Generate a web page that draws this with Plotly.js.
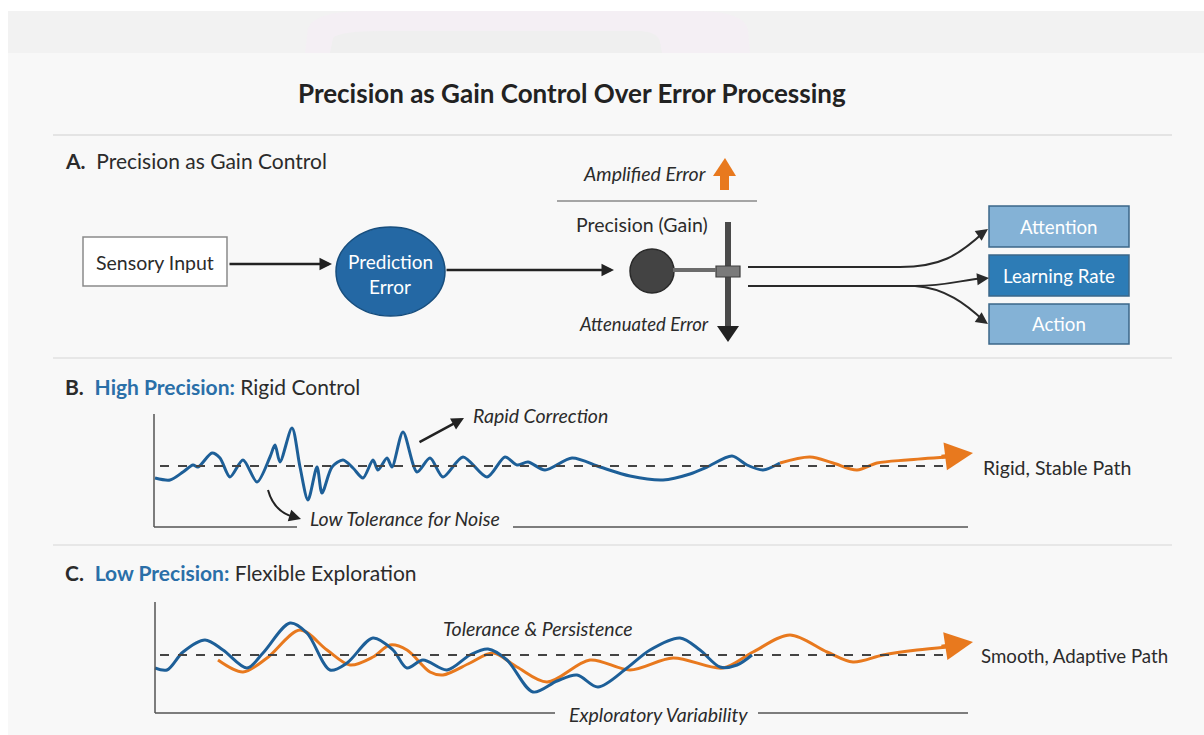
<!DOCTYPE html>
<html>
<head>
<meta charset="utf-8">
<script src="https://cdn.plot.ly/plotly-3.0.1.min.js"></script>
<style>html,body{margin:0;padding:0;background:#fff;}#chart{width:1204px;height:735px;}</style>
</head>
<body>
<div id="chart"></div>
<script>
// ---------- DATA ----------
// Panel B: high precision (time units, deviation from set point)
const highBlueT = [0.1,1.6,2.9,3.9,4.4,5.8,6.6,7.6,8.9,10.3,11.6,12.1,12.6,13.8,14.6,15.4,16.3,16.8,17.8,18.9,19.9,20.9,21.9,22.4,23.3,23.8,24.9,26.3,27.6,28.9,30.9,33.3,35.1,36.3,37.4,39.1,41.8,44.6,47.6,50.9,53.6,55.3,57.8,59.3,60.9,62.6];
const highBlueV = [-1.2,-1.4,-0.6,0.1,-0.1,1.3,0.8,-1.1,0.6,-1.6,0.9,2.1,0.4,3.8,-0.1,-3.4,-0.1,-2.7,-0.1,0.6,-0.2,-1.2,0.6,-0.4,0.8,-0.1,3.4,-0.6,0.8,-1.1,0.9,-1.1,0.9,0.1,0.4,-0.4,0.8,-0.1,-1.0,-1.4,-0.8,-0.1,1.0,0.1,-0.4,0.3];
const highOrangeT = [62.6,65.6,67.9,70.3,72.3,75.3,79.3];
const highOrangeV = [0.3,0.9,0.3,-0.4,0.3,0.6,0.9];
// Panel C: low precision
const lowBlueT = [0.1,1.3,2.9,5.1,6.9,9.3,10.9,13.6,15.3,17.6,19.3,21.9,23.9,25.3,26.9,29.3,31.6,33.4,35.3,37.9,40.3,42.3,44.4,47.3,49.6,52.6,54.6,56.6,58.3,59.8];
const lowBlueV = [-1.3,-1.5,0.3,1.5,0.5,-1.3,0.2,3.2,2.2,-1.5,-0.8,1.7,0.5,-1.3,-0.5,-1.5,0.0,0.6,-0.5,-3.7,-2.6,-2.0,-3.2,-1.3,0.5,1.7,0.5,-1.2,-1.0,0.0];
const lowOrangeT = [6.4,8.9,11.3,14.6,17.3,19.6,21.9,23.6,25.3,27.6,28.9,31.6,33.9,36.3,39.3,43.6,47.6,51.9,56.9,59.9,63.6,67.3,69.9,72.9,76.3,79.3];
const lowOrangeV = [-0.5,-1.7,-0.3,2.5,0.5,-1.0,-0.2,1.0,0.5,-1.7,-2.0,-0.8,0.2,-1.2,-2.7,-0.5,-1.5,-0.3,-1.3,0.3,2.0,0.3,-0.7,0.0,0.5,0.8];
const arrowTipT = 81.9;
const highArrowTipV = 1.3;
const lowArrowTipV = 1.3;

// Labels
const titleText = "Precision as Gain Control Over Error Processing";
const outputBoxes = ["Attention", "Learning Rate", "Action"];

// ---------- STYLE ----------
const FONT = "Lato, 'Open Sans', sans-serif";
const BLUE = "#1d5f98";
const ORANGE = "#e8791e";
const TXT = "#2b2b2b";
const LBL = 19.5;

const shapes = [];
const ann = [];
function rect(x0,y0,x1,y1,fill,lc,lw){shapes.push({type:'rect',xref:'x',yref:'y',x0,y0,x1,y1,fillcolor:fill,line:{color:lc||fill,width:lw||0},layer:'below'});}
function line(x0,y0,x1,y1,c,w,dash){shapes.push({type:'line',xref:'x',yref:'y',x0,y0,x1,y1,line:{color:c,width:w,dash:dash||'solid'}});}
function path(p,c,w,fill){shapes.push({type:'path',xref:'x',yref:'y',path:p,line:{color:c,width:w},fillcolor:fill||'rgba(0,0,0,0)'});}
function text(t,x,y,size,opts){opts=opts||{};ann.push({xref:'x',yref:'y',x,y,text:t,showarrow:false,xanchor:opts.xa||'center',yanchor:'middle',font:{family:FONT,size,color:opts.color||TXT,style:opts.italic?'italic':'normal',weight:opts.weight||'normal'}});}
function arrow(x,y,ax,ay,c,w,size,xr,yr){ann.push({xref:xr||'x',yref:yr||'y',axref:xr||'x',ayref:yr||'y',x,y,ax,ay,text:'',showarrow:true,arrowhead:2,arrowsize:size||1,arrowwidth:w,arrowcolor:c,standoff:0,startstandoff:0});}

// background
rect(8,11,1204,735,'#f8f8f8');
rect(8,11,1204,53,'#f2f2f2');
path('M 305 53 L 308 28 Q 315 12 360 11 L 700 11 Q 745 12 748 30 L 750 53 Z','rgba(0,0,0,0)',0,'#f4eff4');
path('M 330 53 L 333 38 Q 340 31 380 31 L 640 31 Q 658 32 660 42 L 662 53 Z','rgba(0,0,0,0)',0,'#efefef');

// title & separators
text('<b>'+titleText+'</b>',572,93,26,{color:'#222'});
line(53,135,1172,135,'#dedede',1.5);
line(53,358,1172,358,'#e2e2e2',1.5);
line(53,545,1172,545,'#e2e2e2',1.5);

// Section headers
text('<b>A.</b>&nbsp;&nbsp;Precision as Gain Control',63,160,21,{xa:'left'});
text("<b>B.</b>&nbsp;&nbsp;<span style='color:#2a6fa8'><b>High Precision:</b></span> Rigid Control",63,386,21,{xa:'left'});
text("<b>C.</b>&nbsp;&nbsp;<span style='color:#2a6fa8'><b>Low Precision:</b></span> Flexible Exploration",63,572,21,{xa:'left'});

// ---- Panel A ----
rect(83,237,227,286,'#ffffff','#8a8a8a',1.5);
text('Sensory Input',155,262,LBL);
arrow(332,264,228,264,'#222',2.5,1);
shapes.push({type:'circle',xref:'x',yref:'y',x0:336,y0:227,x1:445,y1:316,fillcolor:'#2468a4',line:{color:'#174e7e',width:1.5}});
text('Prediction',390,261,19,{color:'#ffffff'});
text('Error',390,286,19,{color:'#ffffff'});
arrow(614,270,445,270,'#222',2.5,1);

text('Amplified Error',644,173,LBL,{italic:true});
path('M 713 176 L 736 176 L 725 158 Z','rgba(0,0,0,0)',0,ORANGE);
rect(720,175,729,190,ORANGE);
line(557,201,757,201,'#8a8a8a',1.5);
text('Precision (Gain)',642,224,LBL);
shapes.push({type:'circle',xref:'x',yref:'y',x0:630,y0:249,x1:674,y1:293,fillcolor:'#434343',line:{color:'#2a2a2a',width:1.5}});
line(673,270,716,270,'#6c6c6c',4);
rect(725,222,731,330,'#4a4a4a');
path('M 717 326 L 739 326 L 728 342 Z','rgba(0,0,0,0)',0,'#222');
rect(716,266,740,277,'#7a7a7a','#3c3c3c',1.2);
text('Attenuated Error',644,324,18.5,{italic:true});

// outputs
path('M 748 267 L 900 267 C 940 267 958 256 984 232','#2a2a2a',2);
path('M 748 286 L 915 286 C 945 286 962 280 984 278','#2a2a2a',2);
path('M 915 286 C 945 288 966 304 984 321','#2a2a2a',2);
arrow(988,229,978,236,'#2a2a2a',2,1.2);
arrow(989,278,979,279,'#2a2a2a',2,1.2);
arrow(988,324,978,317,'#2a2a2a',2,1.2);
const boxY = [[206,247],[255,296],[304,344]];
const boxFill = ['#84b2d6','#2d7cb6','#84b2d6'];
outputBoxes.forEach((b,i)=>{
  rect(989,boxY[i][0],1129,boxY[i][1],boxFill[i],'#3b6789',1.5);
  text(b,1059,(boxY[i][0]+boxY[i][1])/2,18.7,{color:'#ffffff'});
});

// ---- Panel B ----
line(154,414,154,527,'#555',1.5);
line(154,527,297,527,'#555',1.5);
line(513,527,968,527,'#555',1.5);
shapes.push({type:'line',xref:'x2',yref:'y2',x0:0.6,x1:79.4,y0:0,y1:0,line:{color:'#444',width:1.8,dash:'dash'}});
text('Rapid Correction',471,415,LBL,{italic:true,xa:'left'});
arrow(464,418,418,443,'#222',2.5,1);
text('Low Tolerance for Noise',308,518,LBL,{italic:true,xa:'left'});
path('M 268 490 Q 274 512 294 517','#222',2);
arrow(301,519,291,516,'#222',2,1.2);
text('Rigid, Stable Path',981,467,LBL,{xa:'left'});
arrow(arrowTipT,highArrowTipV,78.6,0.9,ORANGE,4,1.4,'x2','y2');

// ---- Panel C ----
line(155,602,155,713,'#555',1.5);
line(155,713,555,713,'#555',1.5);
line(758,713,968,713,'#555',1.5);
shapes.push({type:'line',xref:'x3',yref:'y3',x0:0.6,x1:79.4,y0:0,y1:0,line:{color:'#444',width:1.8,dash:'dash'}});
text('Tolerance &amp; Persistence',441,628,LBL,{italic:true,xa:'left'});
text('Exploratory Variability',567,714,LBL,{italic:true,xa:'left'});
text('Smooth, Adaptive Path',979,656,18.7,{xa:'left'});
arrow(arrowTipT,lowArrowTipV,78.6,0.8,ORANGE,4,1.4,'x3','y3');

// ---------- TRACES ----------
const traces = [
  {x:[0],y:[0],xaxis:'x',yaxis:'y',mode:'markers',marker:{opacity:0},hoverinfo:'skip',showlegend:false},
  {x:highBlueT,y:highBlueV,xaxis:'x2',yaxis:'y2',mode:'lines',line:{color:BLUE,width:3,shape:'spline',smoothing:0.8},showlegend:false,hoverinfo:'skip'},
  {x:highOrangeT,y:highOrangeV,xaxis:'x2',yaxis:'y2',mode:'lines',line:{color:ORANGE,width:3,shape:'spline',smoothing:0.9},showlegend:false,hoverinfo:'skip'},
  {x:lowOrangeT,y:lowOrangeV,xaxis:'x3',yaxis:'y3',mode:'lines',line:{color:ORANGE,width:3,shape:'spline',smoothing:0.9},showlegend:false,hoverinfo:'skip'},
  {x:lowBlueT,y:lowBlueV,xaxis:'x3',yaxis:'y3',mode:'lines',line:{color:BLUE,width:3,shape:'spline',smoothing:0.9},showlegend:false,hoverinfo:'skip'}
];

const hidden = {visible:false,fixedrange:true,showgrid:false,zeroline:false};
const layout = {
  width:1204,height:735,margin:{l:0,r:0,t:0,b:0,pad:0},
  paper_bgcolor:'#ffffff',plot_bgcolor:'rgba(0,0,0,0)',
  showlegend:false,
  xaxis:Object.assign({domain:[0,1],range:[0,1204],anchor:'y'},hidden),
  yaxis:Object.assign({domain:[0,1],range:[735,0],anchor:'x'},hidden),
  xaxis2:Object.assign({domain:[154/1204,979/1204],range:[0,82.5],anchor:'y2'},hidden),
  yaxis2:Object.assign({domain:[208/735,321/735],range:[-6.1,5.2],anchor:'x2'},hidden),
  xaxis3:Object.assign({domain:[154/1204,979/1204],range:[0,82.5],anchor:'y3'},hidden),
  yaxis3:Object.assign({domain:[22/735,133/735],range:[-5.8,5.3],anchor:'x3'},hidden),
  shapes:shapes,
  annotations:ann,
  font:{family:FONT}
};
Plotly.newPlot('chart',traces,layout,{displayModeBar:false,staticPlot:true});
</script>
</body>
</html>
